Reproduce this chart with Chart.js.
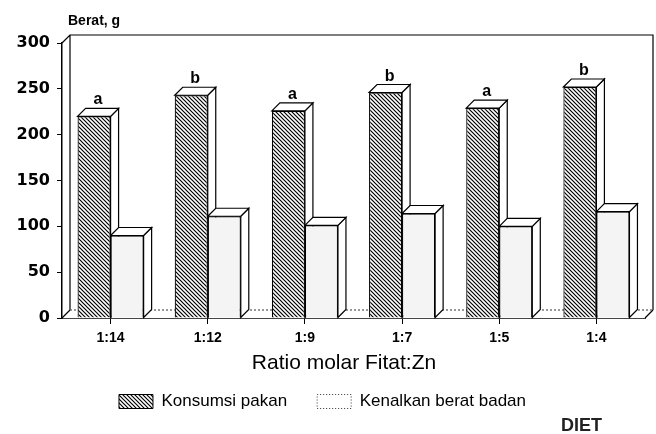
<!DOCTYPE html>
<html>
<head>
<meta charset="utf-8">
<script src="https://cdn.jsdelivr.net/npm/chart.js@4.4.1/dist/chart.umd.min.js"></script>
<style>
  html, body { margin: 0; padding: 0; background: #fff; }
  #wrap { width: 656px; height: 434px; position: relative; }
</style>
</head>
<body>
<div id="wrap"><canvas id="myChart" width="656" height="434"></canvas></div>
<script>
const labels = ['1:14', '1:12', '1:9', '1:7', '1:5', '1:4'];
const konsumsi = [220, 243, 226, 246, 229, 252];
const kenaikan = [90, 111, 101, 114, 100, 116];
const huruf = ['a', 'b', 'a', 'b', 'a', 'b'];
const yTicks = [0, 50, 100, 150, 200, 250, 300];

const DEPTH = 8;
const FONT = '"Liberation Sans", Arial, sans-serif';
const WIDE = '"DejaVu Sans", sans-serif';

// hatch pattern "\\\\"
function hatch() {
  const c = document.createElement('canvas');
  c.width = 4; c.height = 4;
  const g = c.getContext('2d');
  g.fillStyle = '#fff';
  g.fillRect(0, 0, 4, 4);
  g.strokeStyle = '#000';
  g.lineWidth = 1.2;
  g.beginPath();
  g.moveTo(-1, -1); g.lineTo(5, 5);
  g.moveTo(3, -1); g.lineTo(5, 1);
  g.moveTo(-1, 3); g.lineTo(1, 5);
  g.stroke();
  return g.createPattern(c, 'repeat');
}
const pola = hatch();

// back wall + 3D faces of bars
const box3d = {
  id: 'box3d',
  beforeDatasetsDraw(chart) {
    const ctx = chart.ctx;
    const a = chart.chartArea;
    const d = DEPTH;
    ctx.save();
    ctx.strokeStyle = '#000';
    ctx.lineWidth = 1.2;
    ctx.beginPath();
    ctx.moveTo(a.left, a.top); ctx.lineTo(a.left + d, a.top - d);
    ctx.lineTo(a.right + d, a.top - d);
    ctx.lineTo(a.right + d, a.bottom - d);
    ctx.moveTo(a.left + d, a.top - d); ctx.lineTo(a.left + d, a.bottom - d);
    ctx.moveTo(a.left, a.bottom); ctx.lineTo(a.left + d, a.bottom - d);
    ctx.moveTo(a.right, a.bottom); ctx.lineTo(a.right + d, a.bottom - d);
    ctx.stroke();
    ctx.setLineDash([2, 2]);
    ctx.strokeStyle = '#555';
    ctx.beginPath();
    ctx.moveTo(a.left + d, a.bottom - d); ctx.lineTo(a.right + d, a.bottom - d);
    ctx.stroke();
    ctx.setLineDash([]);

    ctx.strokeStyle = '#000';
    ctx.lineWidth = 1.2;
    for (let i = 0; i < labels.length; i++) {
      for (let s = 0; s < chart.data.datasets.length; s++) {
        const bar = chart.getDatasetMeta(s).data[i];
        const x1 = bar.x - bar.width / 2, x2 = bar.x + bar.width / 2;
        const y = bar.y, b = bar.base;
        ctx.fillStyle = '#fff';
        ctx.beginPath();
        ctx.moveTo(x2, y); ctx.lineTo(x2 + d, y - d);
        ctx.lineTo(x2 + d, b - d); ctx.lineTo(x2, b);
        ctx.closePath(); ctx.fill(); ctx.stroke();
        ctx.beginPath();
        ctx.moveTo(x1, y); ctx.lineTo(x1 + d, y - d);
        ctx.lineTo(x2 + d, y - d); ctx.lineTo(x2, y);
        ctx.closePath(); ctx.fill(); ctx.stroke();
      }
    }
    ctx.restore();
  },
  afterDatasetsDraw(chart) {
    const ctx = chart.ctx;
    ctx.save();
    ctx.fillStyle = '#000';
    ctx.font = 'bold 16px ' + FONT;
    ctx.textAlign = 'center';
    ctx.textBaseline = 'alphabetic';
    chart.getDatasetMeta(0).data.forEach((bar, i) => {
      ctx.fillText(huruf[i], bar.x + DEPTH / 2, bar.y - DEPTH - 4);
    });
    ctx.restore();
  },
  afterDraw(chart) {
    const ctx = chart.ctx;
    ctx.save();
    ctx.fillStyle = '#000';
    ctx.textBaseline = 'middle';
    ctx.textAlign = 'left';
    ctx.font = 'bold 14px ' + FONT;
    ctx.fillText('Berat, g', 68, 21);
    ctx.textAlign = 'center';
    ctx.font = '21px ' + FONT;
    ctx.fillText('Ratio molar Fitat:Zn', 344, 363);
    ctx.textAlign = 'left';
    ctx.font = 'bold 18px ' + FONT;
    ctx.fillStyle = '#222';
    ctx.fillText('DIET', 561, 426);
    ctx.restore();
  }
};

const data = {
  labels: labels,
  datasets: [{
    label: 'Konsumsi pakan',
    data: konsumsi,
    backgroundColor: pola,
    borderColor: '#000',
    borderWidth: 1.2
  }, {
    label: 'Kenalkan berat badan',
    data: kenaikan,
    backgroundColor: '#f4f4f4',
    borderColor: '#000',
    borderWidth: 1.2
  }]
};

const config = {
  type: 'bar',
  data: data,
  plugins: [box3d],
  options: {
    responsive: false,
    animation: false,
    layout: { padding: { left: 0, right: 11, top: 43, bottom: 14 } },
    datasets: { bar: { categoryPercentage: 0.68, barPercentage: 1 } },
    scales: {
      x: {
        grid: { display: true, drawOnChartArea: false, offset: false, tickLength: 6, color: '#000' },
        border: { display: true, color: '#444', width: 1, dash: [2, 2] },
        ticks: { color: '#000', font: { family: FONT, size: 14, weight: 'bold' }, padding: 6 },
        afterFit(scale) { scale.height = 45; }
      },
      y: {
        min: 0, max: 300,
        afterBuildTicks(scale) { scale.ticks = yTicks.map(v => ({ value: v })); },
        grid: { display: true, drawOnChartArea: false, tickLength: 5, color: '#000' },
        border: { display: true, color: '#000', width: 1.5 },
        ticks: { color: '#000', font: { family: WIDE, size: 16, weight: 'bold' }, padding: 7 },
        afterFit(scale) { scale.width = 62; }
      }
    },
    plugins: {
      tooltip: { enabled: false },
      legend: {
        position: 'bottom',
        labels: {
          color: '#000',
          font: { family: FONT, size: 17 },
          boxWidth: 34, boxHeight: 14, padding: 30,
          generateLabels(chart) {
            const items = Chart.defaults.plugins.legend.labels.generateLabels(chart);
            items[1].lineDash = [1, 2];
            items[1].fillStyle = '#fff';
            items[1].strokeStyle = '#333';
            items.forEach(it => { it.lineWidth = 1; });
            return items;
          }
        }
      }
    }
  }
};

const myChart = new Chart(document.getElementById('myChart').getContext('2d'), config);
</script>
</body>
</html>
